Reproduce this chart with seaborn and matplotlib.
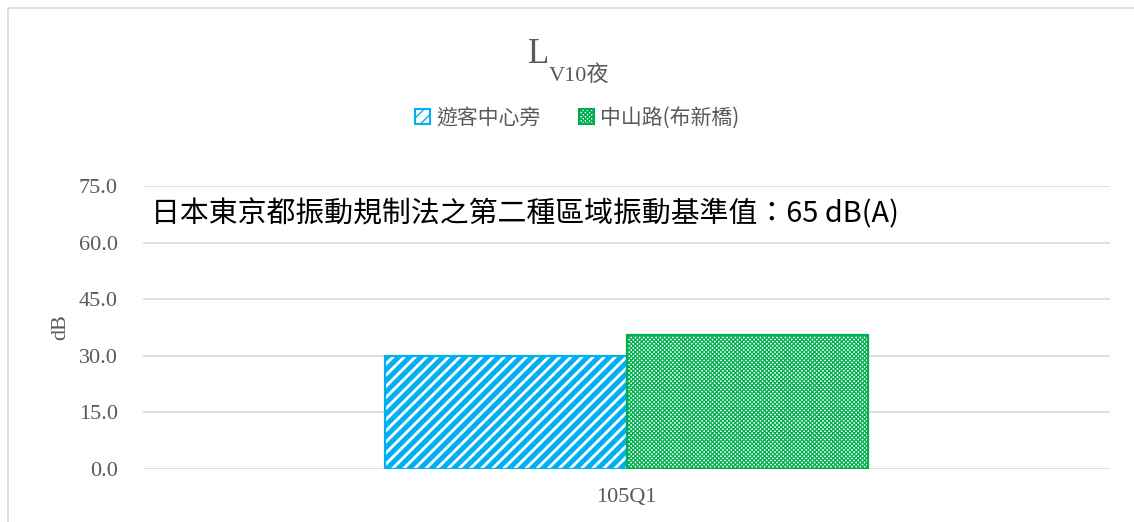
import matplotlib
matplotlib.use("Agg")
import matplotlib.pyplot as plt
import seaborn as sns
import pandas as pd
from matplotlib.patches import Patch, Rectangle

categories = ["105Q1"]
series_names = ["遊客中心旁", "中山路(布新橋)"]
values_visitor = [30.0]
values_zhongshan = [35.6]
yticks = [0.0, 15.0, 30.0, 45.0, 60.0, 75.0]
note = "日本東京都振動規制法之第二種區域振動基準值：65 dB(A)"

colors = ["#00B0F0", "#00B050"]
hatches = ["///", "xxxxxxxx"]
hatch_lw = [3.6, 0.9]

df = pd.DataFrame({
    "period": categories * 2,
    "site": [series_names[0]] * len(categories) + [series_names[1]] * len(categories),
    "value": values_visitor + values_zhongshan,
})

sns.set_theme(style="white")
plt.rcParams["font.family"] = ["Liberation Serif", "Noto Sans CJK TC"]

fig = plt.figure(figsize=(11.34, 5.22), dpi=100)
ax = fig.add_axes([0.126, 0.1015, 0.853, 0.5422])

sns.barplot(data=df, x="period", y="value", hue="site", hue_order=series_names,
            palette=["white", "white"], width=0.5, ax=ax, legend=False,
            saturation=1)

bars = [p for p in ax.patches if isinstance(p, Rectangle)]
for i, p in enumerate(bars):
    p.set_facecolor("white")
    p.set_edgecolor(colors[i])
    p.set_hatch(hatches[i])
    p.set_linewidth(1.6)
    if hasattr(p, "set_hatch_linewidth"):
        p.set_hatch_linewidth(hatch_lw[i])

ax.set_xlim(-0.5, 0.5)
ax.set_ylim(0, 75)
ax.set_yticks(yticks)
ax.set_yticklabels([f"{v:.1f}" for v in yticks])
ax.yaxis.grid(True, color="#D9D9D9", linewidth=1.2)
ax.set_axisbelow(True)
for s in ax.spines.values():
    s.set_visible(False)
ax.tick_params(axis="y", length=0, labelsize=16, colors="#595959", pad=18)
ax.tick_params(axis="x", length=0, labelsize=16, colors="#595959", pad=14)
ax.set_xlabel("")
ax.set_ylabel("dB", fontsize=16, color="#595959", labelpad=6)

ax.text(0.008, 0.955, note, transform=ax.transAxes, fontsize=20.8, color="black",
        va="top", ha="left", family=["Noto Sans CJK TC", "Liberation Serif"])

# Title L with subscript
t1 = fig.text(0.484, 0.879, "L", fontsize=25, color="#595959", ha="right", va="baseline")
ax.annotate("V10夜", xy=(1, 0), xycoords=t1, xytext=(0, -7), textcoords="offset points",
            fontsize=16, color="#595959", ha="left", va="baseline",
            family=["Liberation Serif", "Noto Sans CJK TC"])

lh = []
for i in range(2):
    h = Patch(facecolor="white", edgecolor=colors[i], hatch=hatches[i], linewidth=1.5)
    lh.append(h)
fig.legend(lh, series_names, loc="center", bbox_to_anchor=(0.509, 0.774), ncol=2,
           frameon=False, handlelength=0.75, handleheight=0.75,
           handletextpad=0.3, columnspacing=1.8, labelcolor="#595959",
           prop={"family": ["Noto Sans CJK TC", "Liberation Serif"], "size": 15})

fig.patches.append(Rectangle((8 / 1134, -0.05), 1.2, 1 - 8 / 522 + 0.05,
                             transform=fig.transFigure, fill=False,
                             edgecolor="#D9D9D9", linewidth=1.2))

fig.savefig("out.png", dpi=100, facecolor="white")
